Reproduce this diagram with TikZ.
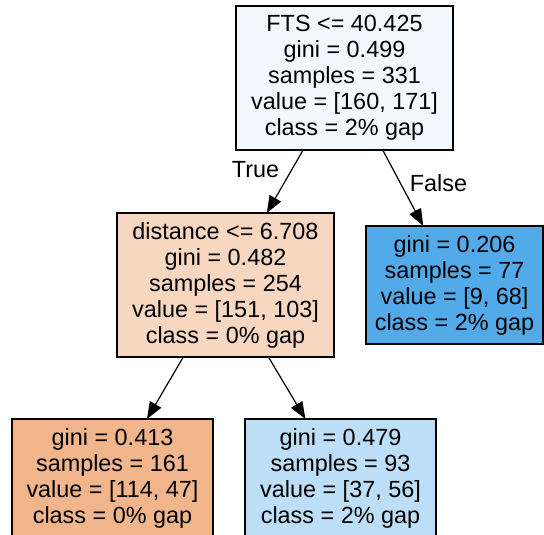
\documentclass[tikz,border=0pt]{standalone}
\usepackage{fontspec}
\setmainfont{Liberation Sans}
\usetikzlibrary{arrows.meta}
\definecolor{croot}{RGB}{242,249,253}
\definecolor{cleft}{RGB}{247,215,192}
\definecolor{cright}{RGB}{83,170,232}
\definecolor{cll}{RGB}{240,181,139}
\definecolor{clr}{RGB}{188,222,246}
\begin{document}
\begin{tikzpicture}[x=1pt,y=-1pt,
  tn/.style={draw=black, line width=1.2pt, rectangle, align=center, inner sep=0pt, outer sep=0pt,
    font=\fontsize{23.4}{26}\selectfont},
  edge/.style={draw=black, line width=1.2pt, -{Triangle[length=17pt,width=13pt]}},
  elabel/.style={font=\fontsize{23.4}{26}\selectfont, inner sep=0pt}]
\useasboundingbox (0,0) rectangle (544,535);
\node[tn, fill=croot, minimum width=217pt, minimum height=144pt] (root) at (344.5,78)
  {FTS <= 40.425\\gini = 0.499\\samples = 331\\value = [160, 171]\\class = 2\% gap};
\node[tn, fill=cleft, minimum width=217pt, minimum height=144pt] (left) at (225.5,285)
  {distance <= 6.708\\gini = 0.482\\samples = 254\\value = [151, 103]\\class = 0\% gap};
\node[tn, fill=cright, minimum width=177pt, minimum height=118pt] (right) at (454.5,285)
  {gini = 0.206\\samples = 77\\value = [9, 68]\\class = 2\% gap};
\node[tn, fill=cll, minimum width=201pt, minimum height=118pt] (ll) at (112.5,478)
  {gini = 0.413\\samples = 161\\value = [114, 47]\\class = 0\% gap};
\node[tn, fill=clr, minimum width=191pt, minimum height=118pt] (lr) at (340.5,478)
  {gini = 0.479\\samples = 93\\value = [37, 56]\\class = 2\% gap};
\draw[edge] (root) -- (left);
\draw[edge] (root) -- (right);
\draw[edge] (left) -- (ll);
\draw[edge] (left) -- (lr);
\node[elabel] (tlab) at (255.5,170) {True};
\node[elabel] (flab) at (438.5,183) {False};
\end{tikzpicture}
\end{document}
